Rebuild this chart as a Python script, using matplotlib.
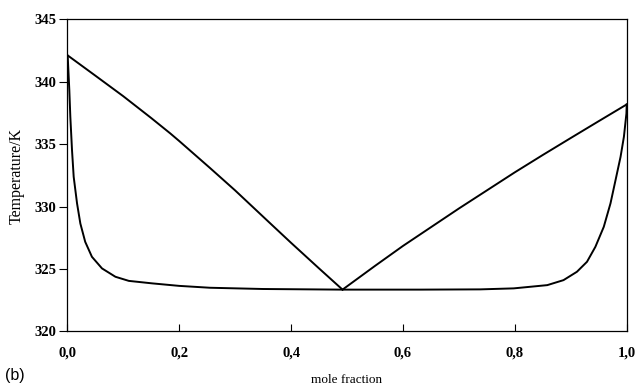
import matplotlib.pyplot as plt
from matplotlib.ticker import FuncFormatter

# liquidus branches meeting at the eutectic
liq_left_x = [0.0, 0.05, 0.10, 0.15, 0.184, 0.20, 0.255, 0.30, 0.363, 0.40, 0.45, 0.492]
liq_left_T = [342.14, 340.5, 338.85, 337.1, 335.87, 335.26, 333.1, 331.3, 328.65,
              327.1, 325.05, 323.35]
liq_right_x = [0.492, 0.55, 0.60, 0.65, 0.70, 0.75, 0.80, 0.85, 0.90, 0.95, 1.0]
liq_right_T = [323.35, 325.25, 326.85, 328.35, 329.85, 331.3, 332.75, 334.14, 335.5, 336.85, 338.19]

# solidus curve
sol_x = [0.0, 0.0007, 0.0036, 0.0054, 0.0084, 0.0114, 0.0174, 0.0233, 0.032, 0.044,
         0.062, 0.086, 0.110, 0.152, 0.20, 0.255, 0.35, 0.49, 0.631, 0.738,
         0.798, 0.858, 0.887, 0.911, 0.929, 0.944, 0.959, 0.971, 0.980, 0.989,
         0.995, 0.9995, 1.0]
sol_T = [342.14, 342.06, 339.33, 337.2, 334.53, 332.39, 330.26, 328.65, 327.18, 325.98,
         325.05, 324.38, 324.05, 323.85, 323.65, 323.5, 323.4, 323.35, 323.35, 323.37,
         323.45, 323.71, 324.11, 324.78, 325.58, 326.78, 328.38, 330.26, 332.12, 333.99,
         335.6, 337.47, 338.19]

xticks = [0.0, 0.2, 0.4, 0.6, 0.8, 1.0]
yticks = [320, 325, 330, 335, 340, 345]

fig = plt.figure(figsize=(6.38, 3.89), dpi=100)
ax = fig.add_axes([0.1055, 0.148, 0.8768, 0.802])

for xs, ts in [(liq_left_x, liq_left_T), (liq_right_x, liq_right_T), (sol_x, sol_T)]:
    ax.plot(xs, ts, color="black", lw=1.4, solid_joinstyle="round")

ax.set_xlim(0, 1)
ax.set_ylim(320, 345)
ax.set_xticks(xticks)
ax.set_yticks(yticks)
ax.xaxis.set_major_formatter(FuncFormatter(lambda v, p: f"{v:.1f}".replace(".", ",")))

for lab in ax.get_xticklabels() + ax.get_yticklabels():
    lab.set_fontfamily("Liberation Serif")
    lab.set_fontweight("bold")
    lab.set_fontsize(10.5)

ax.tick_params(axis="x", direction="in", length=5, width=0.8, pad=11)
ax.tick_params(axis="y", direction="out", length=6, width=0.8, pad=2)
for s in ax.spines.values():
    s.set_linewidth(0.9)

ax.set_ylabel("Temperature/K", family="Liberation Serif", fontsize=11.5, labelpad=7)
ax.set_xlabel("mole fraction", family="Liberation Serif", fontsize=9.5, va="center")
ax.xaxis.set_label_coords(0.5, -0.155)
fig.text(0.008, 0.022, "(b)", family="Liberation Sans", fontsize=11.5)

fig.savefig("out.png", dpi=100)
